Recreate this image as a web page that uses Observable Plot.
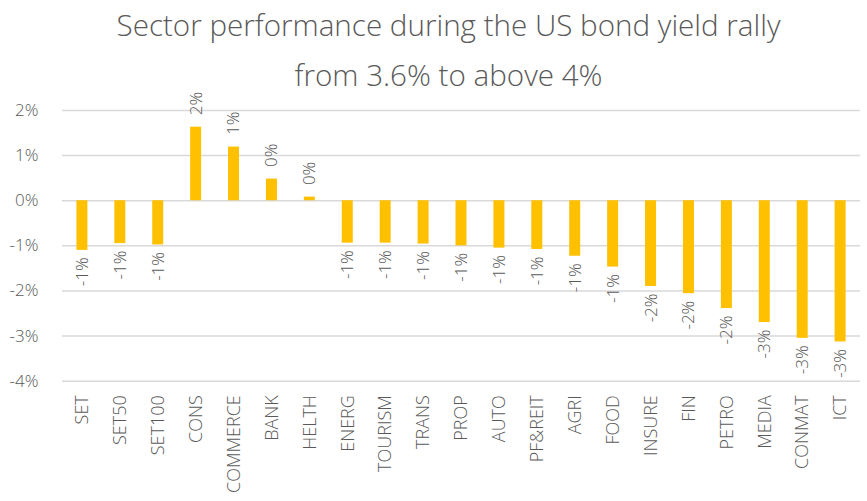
<!DOCTYPE html>
<html><head><meta charset="utf-8">
<script src="https://cdn.jsdelivr.net/npm/d3@7"></script>
<script src="https://cdn.jsdelivr.net/npm/@observablehq/plot@0.6"></script>
<style>
body{margin:0;background:#fff;font-family:"Open Sans",sans-serif;}
#title{width:837px;margin-left:30px;height:80px;text-align:center;color:#595959;font-size:29.6px;font-weight:300;line-height:51px;box-sizing:border-box;}
#title div{height:51px;}
#chart text{font-weight:300;}
</style>
</head><body>
<div id="title"><div style="margin-top:-1px">Sector performance during the US bond yield rally</div><div style="margin-top:-1px">from 3.6% to above 4%</div></div>
<div id="chart"></div>
<script>
const sectors = ["SET","SET50","SET100","CONS","COMMERCE","BANK","HELTH","ENERG","TOURISM","TRANS","PROP","AUTO","PF&REIT","AGRI","FOOD","INSURE","FIN","PETRO","MEDIA","CONMAT","ICT"];
const values = [-1.10,-0.95,-0.98,1.63,1.19,0.48,0.08,-0.94,-0.94,-0.96,-1.00,-1.05,-1.08,-1.23,-1.47,-1.90,-2.06,-2.39,-2.70,-3.05,-3.13];
const yTicks = [-4,-3,-2,-1,0,1,2];
const data = sectors.map((s,i)=>({sector:s, value:values[i]}));
const fmt = v => `${Math.round(v)}%`;
const gray = "#595959";
const chart = Plot.plot({
  width: 867, height: 421,
  marginTop: 31, marginBottom: 119.3, marginLeft: 62, marginRight: 7,
  style: {fontFamily: "'Open Sans', sans-serif", fontSize: "17px", color: gray, overflow: "visible"},
  x: {domain: sectors, paddingInner: 0.71, paddingOuter: 0.38, round: false, label: null},
  y: {domain: [-4, 2], label: null},
  marks: [
    Plot.ruleY(yTicks, {stroke: "#d9d9d9", strokeWidth: 1.5}),
    Plot.barY(data, {x: "sector", y: "value", fill: "#FFC000"}),
    Plot.text(data.filter(d => d.value < 0), {x: "sector", y: "value", text: d => fmt(d.value), rotate: -90, textAnchor: "end", dy: 7, fill: gray, fontSize: 17}),
    Plot.text(data.filter(d => d.value >= 0), {x: "sector", y: "value", text: d => fmt(d.value), rotate: -90, textAnchor: "start", dy: -12, fill: gray, fontSize: 17}),
    Plot.axisX({tickRotate: -90, tickSize: 0, tickPadding: 14, fontSize: 18, fill: gray, style: {letterSpacing: "1px"}}),
    Plot.axisY({ticks: yTicks, tickFormat: d => d + "%", tickSize: 0, tickPadding: 24, fontSize: 17, fill: gray})
  ]
});
document.getElementById("chart").append(chart);
</script>
</body></html>
